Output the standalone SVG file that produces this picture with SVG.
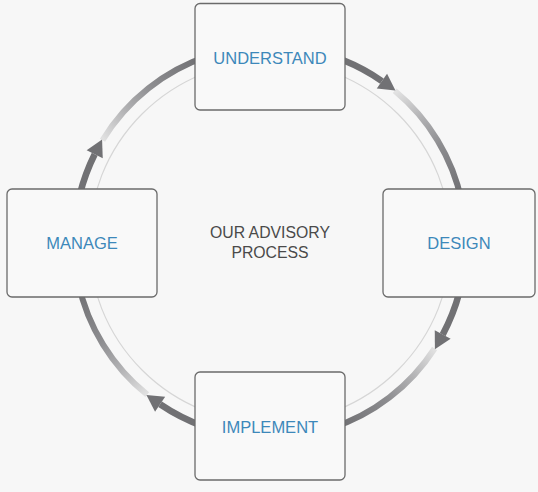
<svg xmlns="http://www.w3.org/2000/svg" width="538" height="492" viewBox="0 0 538 492">
  <style>
    .box { fill: #f9f9f9; stroke: #6b6b6b; stroke-width: 1.3; }
    .label { font-family: "Liberation Sans", Arial, sans-serif; font-size: 16.5px; fill: #3d88ba; text-anchor: middle; }
    .center { font-family: "Liberation Sans", Arial, sans-serif; font-size: 15.8px; fill: #4a4a4a; text-anchor: middle; }
    .shaft { fill: none; stroke: #717174; stroke-width: 6.5; marker-end: url(#head); }
    .grad { fill: none; stroke-width: 6; }
  </style>
  <defs>
    <marker id="head" markerUnits="userSpaceOnUse" markerWidth="18" markerHeight="20" viewBox="0 -10 17 20" refX="0" refY="0" orient="auto">
      <path d="M0,-9 L16.5,0 L0,9 z" fill="#717174"/>
    </marker>
    <linearGradient id="gTR" gradientUnits="userSpaceOnUse" x1="396" y1="92" x2="458.7" y2="189">
      <stop offset="0" stop-color="#e2e2e2"/><stop offset="0.3" stop-color="#b2b2b4"/><stop offset="0.6" stop-color="#8c8c8f"/><stop offset="1" stop-color="#737376"/>
    </linearGradient>
    <linearGradient id="gBR" gradientUnits="userSpaceOnUse" x1="434.6" y1="348.5" x2="345.3" y2="423">
      <stop offset="0" stop-color="#e2e2e2"/><stop offset="0.3" stop-color="#b2b2b4"/><stop offset="0.6" stop-color="#8c8c8f"/><stop offset="1" stop-color="#737376"/>
    </linearGradient>
    <linearGradient id="gBL" gradientUnits="userSpaceOnUse" x1="147.2" y1="394.7" x2="81.6" y2="296">
      <stop offset="0" stop-color="#e2e2e2"/><stop offset="0.3" stop-color="#b2b2b4"/><stop offset="0.6" stop-color="#8c8c8f"/><stop offset="1" stop-color="#737376"/>
    </linearGradient>
    <linearGradient id="gTL" gradientUnits="userSpaceOnUse" x1="102.5" y1="140.2" x2="194.7" y2="61">
      <stop offset="0" stop-color="#e2e2e2"/><stop offset="0.3" stop-color="#b2b2b4"/><stop offset="0.6" stop-color="#8c8c8f"/><stop offset="1" stop-color="#737376"/>
    </linearGradient>
  </defs>
  <rect x="0" y="0" width="538" height="492" fill="#f7f7f7"/>
  <g id="connectors">
    <circle cx="270" cy="242" r="181" fill="none" stroke="#d6d6d6" stroke-width="1.2"/>
    <path class="grad" stroke="url(#gTR)" d="M394.7,90.8 A196,196 0 0 1 461.7,201.3"/>
    <path class="grad" stroke="url(#gBR)" d="M434.6,348.5 A196,196 0 0 1 330.6,428.4"/>
    <path class="grad" stroke="url(#gBL)" d="M147.2,394.7 A196,196 0 0 1 78.3,282.7"/>
    <path class="grad" stroke="url(#gTL)" d="M102.5,140.2 A196,196 0 0 1 209.4,55.6"/>
    <path class="shaft" d="M343.4,60.3 A196,196 0 0 1 381.9,81.1"/>
    <path class="shaft" d="M459.3,292.7 A196,196 0 0 1 442.7,334.6"/>
    <path class="shaft" d="M203,426.2 A196,196 0 0 1 160.1,404.3"/>
    <path class="shaft" d="M79.8,194.6 A196,196 0 0 1 94.7,154.2"/>
  </g>
  <g id="understand">
    <rect class="box" x="195" y="3.5" width="150" height="106.5" rx="5"/>
    <text class="label" x="270" y="63.5">UNDERSTAND</text>
  </g>
  <g id="design">
    <rect class="box" x="383" y="189" width="152" height="108" rx="5"/>
    <text class="label" x="459" y="249">DESIGN</text>
  </g>
  <g id="implement">
    <rect class="box" x="195" y="372" width="150" height="108" rx="5"/>
    <text class="label" x="270" y="432.5">IMPLEMENT</text>
  </g>
  <g id="manage">
    <rect class="box" x="7" y="189" width="150" height="108" rx="5"/>
    <text class="label" x="82" y="249">MANAGE</text>
  </g>
  <g id="center-label">
    <text class="center" x="270" y="238">OUR ADVISORY</text>
    <text class="center" x="270" y="258">PROCESS</text>
  </g>
</svg>
